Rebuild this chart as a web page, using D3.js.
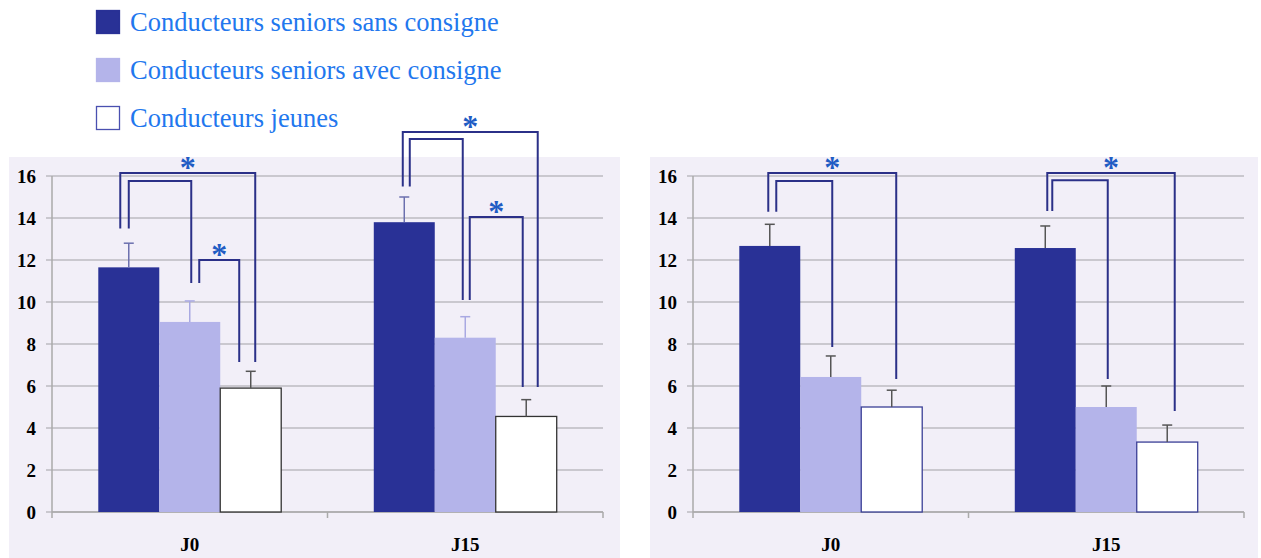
<!DOCTYPE html>
<html>
<head>
<meta charset="utf-8">
<script src="https://cdn.jsdelivr.net/npm/d3@7"></script>
<style>
  body { margin: 0; background: #fff; }
  svg { display: block; }
  svg text { font-family: "Liberation Serif", "DejaVu Serif", "Times New Roman", serif; }
</style>
</head>
<body>
<svg id="chart" width="1261" height="558"></svg>
<script>
// data
const categories = ["J0", "J15"];
const seriesNames = ["Conducteurs seniors sans consigne", "Conducteurs seniors avec consigne", "Conducteurs jeunes"];
const yTicks = [0, 2, 4, 6, 8, 10, 12, 14, 16];

const leftSans = [11.65, 13.8];
const leftAvec = [9.05, 8.3];
const leftJeunes = [5.9, 4.55];
const leftSansErr = [1.15, 1.2];
const leftAvecErr = [1.0, 1.0];
const leftJeunesErr = [0.8, 0.8];

const rightSans = [12.67, 12.57];
const rightAvec = [6.43, 5.0];
const rightJeunes = [5.0, 3.33];
const rightSansErr = [1.03, 1.05];
const rightAvecErr = [1.0, 1.0];
const rightJeunesErr = [0.8, 0.81];

// significance brackets: group, from series, to series, top value, leg bottoms, star
const leftBrackets = [
  {g: 0, a: 0, b: 2, top: 16.14, botA: 13.5, botB: 7.14, dxA: -8.5, dxB: 4.5, star: true},
  {g: 0, a: 0, b: 1, top: 15.76, botA: 13.5, botB: 10.9, dxA: 0, dxB: 1.5, star: false},
  {g: 0, a: 1, b: 2, top: 12.0, botA: 10.9, botB: 7.14, dxA: 9.5, dxB: -11.5, star: true},
  {g: 1, a: 0, b: 2, top: 18.1, botA: 15.5, botB: 5.95, dxA: -1.5, dxB: 11.5, star: true},
  {g: 1, a: 0, b: 1, top: 17.76, botA: 15.5, botB: 10.1, dxA: 5.5, dxB: -2.5, star: false},
  {g: 1, a: 1, b: 2, top: 14.05, botA: 10.1, botB: 5.95, dxA: 4.5, dxB: -3.5, star: true}
];
const rightBrackets = [
  {g: 0, a: 0, b: 2, top: 16.14, botA: 14.3, botB: 6.33, dxA: -1.5, dxB: 4.5, star: true},
  {g: 0, a: 0, b: 1, top: 15.76, botA: 14.3, botB: 7.86, dxA: 6.5, dxB: 1.5, star: false},
  {g: 1, a: 0, b: 2, top: 16.14, botA: 14.33, botB: 4.81, dxA: 2, dxB: 7.5, star: true},
  {g: 1, a: 0, b: 1, top: 15.8, botA: 14.33, botB: 6.33, dxA: 7, dxB: 1.5, star: false}
];

const fills = ["#293196", "#b4b4ea", "#ffffff"];
const svg = d3.select("#chart");

function drawPanel(bg, left, series, errs, errColors, strokeWhite, brackets) {
  const width = 551;
  svg.append("rect")
     .attr("x", bg[0]).attr("y", bg[1])
     .attr("width", bg[2]).attr("height", bg[3])
     .attr("fill", "#f2eff8");

  const g = svg.append("g").attr("transform", `translate(${left},0)`);
  const y = d3.scaleLinear().domain([0, 16]).range([512, 176]);
  const x0 = d3.scaleBand().domain(categories).range([0, width])
               .paddingInner(0.336).paddingOuter(0.168);
  const x1 = d3.scaleBand().domain(d3.range(3)).range([0, x0.bandwidth()]);

  // gridlines + y ticks
  g.selectAll(".grid").data(yTicks).enter()
   .append("line")
   .attr("x1", -6).attr("x2", width)
   .attr("y1", d => y(d)).attr("y2", d => y(d))
   .attr("stroke", "#bdbbc2").attr("stroke-width", 1.5);
  g.selectAll(".ylab").data(yTicks).enter()
   .append("text")
   .attr("x", -16).attr("y", d => y(d) + 6.5)
   .attr("text-anchor", "end")
   .style("font-weight", "bold").style("font-size", "19px")
   .text(d => d);

  // axes lines
  g.append("line").attr("x1", 0).attr("x2", 0).attr("y1", y(16)).attr("y2", y(0))
   .attr("stroke", "#aaa").attr("stroke-width", 1.5);
  g.append("line").attr("x1", 0).attr("x2", width).attr("y1", y(0)).attr("y2", y(0))
   .attr("stroke", "#aaa").attr("stroke-width", 1.5);
  g.selectAll(".xtick").data(d3.range(categories.length + 1)).enter()
   .append("line")
   .attr("x1", d => d * x0.step()).attr("x2", d => d * x0.step())
   .attr("y1", y(0)).attr("y2", y(0) + 6)
   .attr("stroke", "#aaa").attr("stroke-width", 1.5);

  // bars
  series.forEach((vals, s) => {
    g.selectAll(".bar" + s).data(vals).enter()
     .append("rect")
     .attr("x", (d, i) => x0(categories[i]) + x1(s))
     .attr("y", d => y(d))
     .attr("width", x1.bandwidth())
     .attr("height", d => y(0) - y(d))
     .attr("fill", fills[s])
     .attr("stroke", s == 2 ? strokeWhite : "none")
     .attr("stroke-width", 1.3);
  });

  // error bars
  series.forEach((vals, s) => {
    vals.forEach((v, i) => {
      const cx = x0(categories[i]) + x1(s) + x1.bandwidth() / 2;
      const top = y(v + errs[s][i]);
      g.append("line").attr("x1", cx).attr("x2", cx).attr("y1", y(v)).attr("y2", top)
       .attr("stroke", errColors[s]).attr("stroke-width", 1.5);
      g.append("line").attr("x1", cx - 5).attr("x2", cx + 5).attr("y1", top).attr("y2", top)
       .attr("stroke", errColors[s]).attr("stroke-width", 1.5);
    });
  });

  // significance brackets
  brackets.forEach(b => {
    const xa = x0(categories[b.g]) + x1(b.a) + x1.bandwidth() / 2 + b.dxA;
    const xb = x0(categories[b.g]) + x1(b.b) + x1.bandwidth() / 2 + b.dxB;
    g.append("path")
     .attr("d", `M${xa},${y(b.botA)}V${y(b.top)}H${xb}V${y(b.botB)}`)
     .attr("fill", "none").attr("stroke", "#2b3088").attr("stroke-width", 2);
    if (b.star) {
      g.append("text")
       .attr("x", (xa + xb) / 2).attr("y", y(b.top) + 5)
       .attr("text-anchor", "middle")
       .style("font-weight", "bold").style("font-size", "32px")
       .attr("fill", "#1f5cc4")
       .text("*");
    }
  });

  // category labels
  g.selectAll(".xlab").data(categories).enter()
   .append("text")
   .attr("x", d => x0(d) + x0.bandwidth() / 2)
   .attr("y", 551)
   .attr("text-anchor", "middle")
   .style("font-weight", "bold").style("font-size", "19px")
   .text(d => d);
}

drawPanel([9, 157, 611, 401], 52,
  [leftSans, leftAvec, leftJeunes],
  [leftSansErr, leftAvecErr, leftJeunesErr],
  ["#6b6fae", "#a9a9e2", "#555"], "#333", leftBrackets);

drawPanel([650, 157, 608, 401], 693,
  [rightSans, rightAvec, rightJeunes],
  [rightSansErr, rightAvecErr, rightJeunesErr],
  ["#555", "#555", "#555"], "#3a3f96", rightBrackets);

// legend
const legend = svg.append("g");
seriesNames.forEach((name, i) => {
  const ly = 10 + i * 48;
  legend.append("rect")
        .attr("x", 96.5).attr("y", ly + 0.5).attr("width", 23).attr("height", 23)
        .attr("fill", fills[i])
        .attr("stroke", i == 2 ? "#4a50b0" : fills[i]).attr("stroke-width", 1.3);
  legend.append("text")
        .attr("x", 130).attr("y", ly + 21)
        .style("font-size", "26.5px")
        .attr("fill", "#2277ee")
        .text(name);
});
</script>
</body>
</html>
